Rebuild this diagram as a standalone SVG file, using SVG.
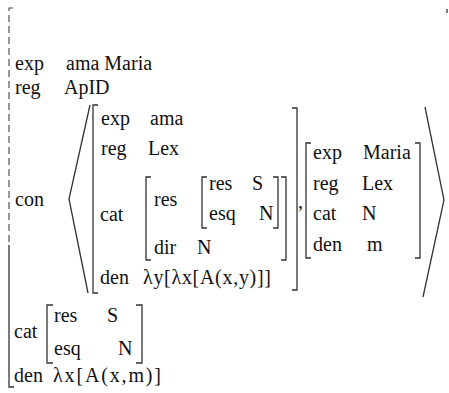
<svg xmlns="http://www.w3.org/2000/svg" width="449" height="393" viewBox="0 0 449 393">
<style>
text{font-family:"Liberation Serif","Times New Roman",serif;font-size:20px;fill:#111}
.b{fill:none;stroke:#333;stroke-width:1.3}
.d{fill:none;stroke:#444;stroke-width:1.1;stroke-dasharray:7,4}
</style>
<rect width="449" height="393" fill="#fff"/>
<g id="outer">
<path class="d" d="M13,8 H9 V245"/>
<path class="b" d="M9,245 V387 H14"/>
<path class="b" d="M447,9 V13"/>
<text x="15" y="70">exp</text><text x="66" y="70">ama Maria</text>
<text x="15" y="94">reg</text><text x="64" y="94">ApID</text>
<text x="15" y="206">con</text>
<text x="14" y="338">cat</text>
<text x="14" y="382">den</text><text x="53" y="382" textLength="108" lengthAdjust="spacing">λx[A(x,m)]</text>
</g>
<g id="outer-cat">
<path class="b" d="M53,305 H47 V363 H53"/>
<path class="b" d="M136,305 H142 V363 H136"/>
<text x="54" y="322">res</text><text x="107" y="322">S</text>
<text x="54" y="355">esq</text><text x="118" y="355">N</text>
</g>
<g id="con-list">
<path class="b" d="M90,105 L69,199 L88,293"/>
<path class="b" d="M425,107 L444,200 L423,297"/>
<text x="298" y="208">,</text>
</g>
<g id="ama">
<path class="b" d="M98,105 H93 V293 H98"/>
<path class="b" d="M292,108 H297 V290 H292"/>
<text x="101" y="125">exp</text><text x="150" y="125">ama</text>
<text x="101" y="155">reg</text><text x="148" y="155">Lex</text>
<text x="100" y="221">cat</text>
<text x="100" y="284">den</text><text x="143" y="284" textLength="128" lengthAdjust="spacing">λy[λx[A(x,y)]]</text>
</g>
<g id="ama-cat">
<path class="b" d="M151,177 H146 V260 H151"/>
<path class="b" d="M281,177 H286 V260 H281"/>
<text x="154" y="206">res</text>
<text x="154" y="254">dir</text><text x="197" y="254">N</text>
</g>
<g id="ama-res">
<path class="b" d="M207,177 H202 V228 H207"/>
<path class="b" d="M273,177 H278 V228 H273"/>
<text x="209" y="190">res</text><text x="252" y="190">S</text>
<text x="209" y="220">esq</text><text x="259" y="220">N</text>
</g>
<g id="maria">
<path class="b" d="M311,143 H306 V258 H311"/>
<path class="b" d="M415,143 H420 V258 H415"/>
<text x="313" y="159">exp</text><text x="363" y="159">Maria</text>
<text x="313" y="190">reg</text><text x="362" y="190">Lex</text>
<text x="313" y="220">cat</text><text x="362" y="220">N</text>
<text x="313" y="251">den</text><text x="367" y="251">m</text>
</g>
</svg>
